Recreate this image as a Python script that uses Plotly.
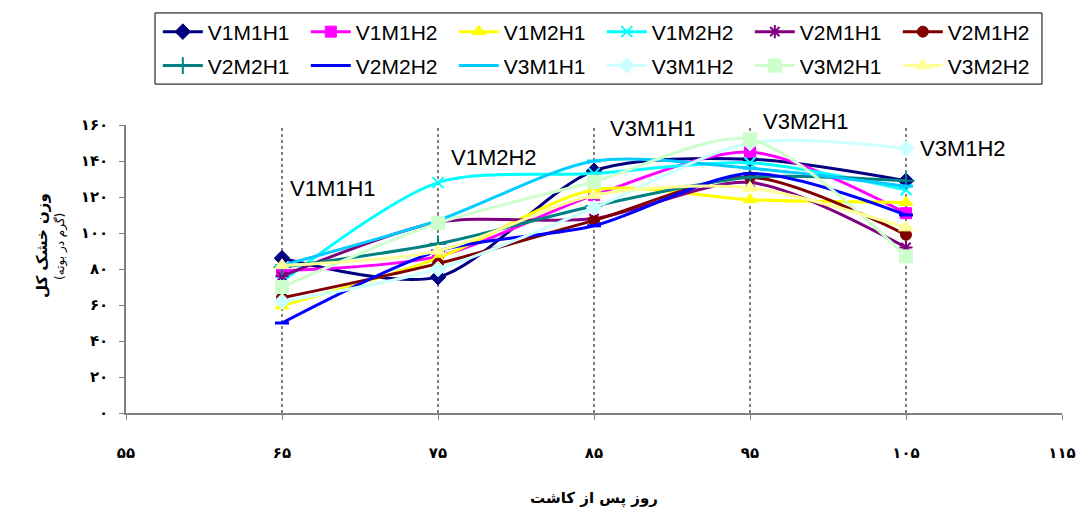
import plotly.graph_objects as go

# Days after planting
days = [65, 75, 85, 95, 105]

# Total dry weight (g per plant) for each treatment
V1M1H1 = [86, 75.5, 134.5, 141, 129]
V1M1H2 = [79, 87, 121, 145, 111]
V1M2H1 = [59.5, 86, 124, 118.5, 117]
V1M2H2 = [73, 128, 133, 139, 124]
V2M1H1 = [76, 106, 108, 128, 92]
V2M1H2 = [64, 83, 107, 131, 99]
V2M2H1 = [81, 94, 115, 131, 129]
V2M2H2 = [50, 90, 104, 133, 110]
V3M1H1 = [82, 107, 140, 136, 126]
V3M1H2 = [62, 80, 114, 150, 147]
V3M2H1 = [70, 105.5, 128.5, 152, 87]
V3M2H2 = [82, 90, 121, 125, 103]

x_ticks = [55, 65, 75, 85, 95, 105, 115]
x_ticktext = ["۵۵", "۶۵", "۷۵", "۸۵", "۹۵", "۱۰۵", "۱۱۵"]
y_ticks = [0, 20, 40, 60, 80, 100, 120, 140, 160]
y_ticktext = ["۰", "۲۰", "۴۰", "۶۰", "۸۰", "۱۰۰", "۱۲۰", "۱۴۰", "۱۶۰"]
Y_MAX = 160

# Peak labels: (text, day, value)
peak_labels = [
    ("V1M1H1", 65.4, 125),
    ("V1M2H2", 75.7, 142),
    ("V3M1H1", 85.9, 158),
    ("V3M2H1", 95.7, 162),
    ("V3M1H2", 105.8, 147),
]

series = [
    ("V1M1H1", V1M1H1, "#000080", "diamond", 12, 1),
    ("V1M1H2", V1M1H2, "#FF00FF", "square", 11, 1),
    ("V1M2H1", V1M2H1, "#FFFF00", "triangle-up", 12, 1),
    ("V1M2H2", V1M2H2, "#00FFFF", "x-thin", 11, 2),
    ("V2M1H1", V2M1H1, "#800080", "asterisk", 11, 2),
    ("V2M1H2", V2M1H2, "#800000", "circle", 11, 1),
    ("V2M2H1", V2M2H1, "#008080", "cross-thin", 12, 2),
    ("V2M2H2", V2M2H2, "#0000FF", "line-ew", 10, 3),
    ("V3M1H1", V3M1H1, "#00CCFF", "line-ew", 10, 3),
    ("V3M1H2", V3M1H2, "#CCFFFF", "diamond", 12, 1),
    ("V3M2H1", V3M2H1, "#CCFFCC", "square", 13, 1),
    ("V3M2H2", V3M2H2, "#FFFF99", "triangle-up", 13, 1),
]

fig = go.Figure()

# First six treatments go in the top legend row, the rest in the second row
for i, (name, vals, color, symbol, size, lw) in enumerate(series):
    fig.add_trace(go.Scatter(
        x=days, y=vals, name=name, mode="lines+markers",
        legend="legend" if i < 6 else "legend2",
        line=dict(color=color, width=3, shape="spline", smoothing=0.8),
        marker=dict(symbol=symbol, size=size, color=color,
                    line=dict(color=color, width=lw)),
    ))

# Dotted vertical guides at each sampling day
for d in days:
    fig.add_shape(type="line", xref="x", yref="y", x0=d, x1=d, y0=0, y1=Y_MAX,
                  line=dict(color="black", width=1, dash="dot"), layer="below")

# Frame around both legend rows
fig.add_shape(type="rect", xref="paper", yref="paper",
              x0=0.031, x1=0.9786, y0=1.142, y1=1.389,
              line=dict(color="black", width=1), fillcolor="rgba(0,0,0,0)")

# Labels may sit slightly above the axis range, so place them in paper units
for text, d, v in peak_labels:
    fig.add_annotation(x=d, y=v / Y_MAX, xref="x", yref="paper", text=text,
                       showarrow=False, xanchor="left", yanchor="middle",
                       font=dict(family="Liberation Sans, Arial", size=22, color="black"))

# Vertical axis title (two lines, main and unit)
fig.add_annotation(x=-0.0897, y=0.58, xref="paper", yref="paper",
                   text="<b>وزن خشک کل</b>", textangle=-90, showarrow=False,
                   xanchor="center", yanchor="middle",
                   font=dict(family="DejaVu Sans", size=15, color="black"))
fig.add_annotation(x=-0.0695, y=0.58, xref="paper", yref="paper",
                   text="(گرم در بوته)", textangle=-90, showarrow=False,
                   xanchor="center", yanchor="middle",
                   font=dict(family="DejaVu Sans", size=12, color="black"))

legend_style = dict(
    orientation="h", x=0.034, xanchor="left", yanchor="middle",
    borderwidth=0, bgcolor="rgba(0,0,0,0)",
    font=dict(family="Liberation Sans, Arial", size=21, color="black"),
    entrywidth=93, entrywidthmode="pixels",
    itemwidth=40, traceorder="normal",
)

fig.update_layout(
    width=1077, height=517,
    margin=dict(l=126, r=15, t=125, b=104, autoexpand=False),
    paper_bgcolor="white", plot_bgcolor="white",
    font=dict(family="DejaVu Sans", color="black"),
    showlegend=True,
    legend=dict(legend_style, y=1.323),
    legend2=dict(legend_style, y=1.205),
    xaxis=dict(
        range=[55, 115], tickvals=x_ticks, ticktext=x_ticktext,
        showgrid=False, zeroline=False, showline=True, linecolor="#808080",
        linewidth=1.5, ticks="outside", ticklen=5, tickcolor="#808080",
        ticklabelstandoff=20, automargin=False,
        tickfont=dict(family="DejaVu Sans", size=15, color="black", weight="bold"),
        title=dict(text="<b>روز پس از کاشت</b>", standoff=32,
                   font=dict(family="DejaVu Sans", size=15, color="black")),
    ),
    yaxis=dict(
        range=[0, Y_MAX], tickvals=y_ticks, ticktext=y_ticktext,
        showgrid=False, zeroline=False, showline=True, linecolor="#808080",
        linewidth=1.5, ticks="outside", ticklen=5, tickcolor="#808080",
        ticklabelstandoff=8, automargin=False,
        tickfont=dict(family="DejaVu Sans", size=15, color="black", weight="bold"),
    ),
)

fig.write_html("out.html")
